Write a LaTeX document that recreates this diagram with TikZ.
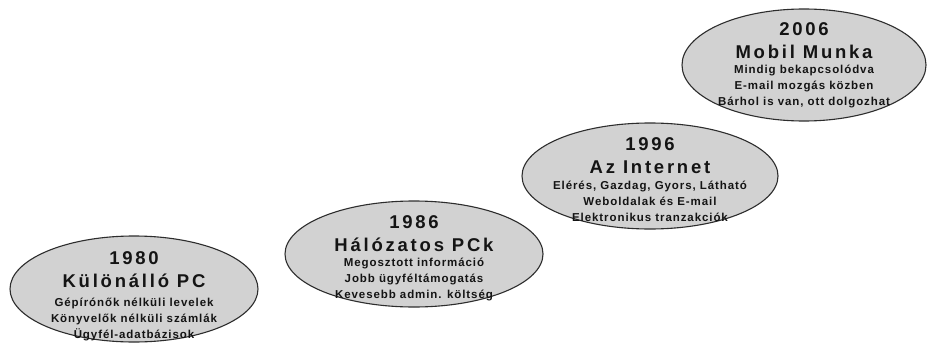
\documentclass[tikz,border=0pt]{standalone}
\usepackage{fontspec}
\setmainfont{Liberation Sans}
\newfontfamily\headface[LetterSpace=15]{Liberation Sans}
\newfontfamily\wideface[LetterSpace=8]{Liberation Sans}
\usetikzlibrary{shapes.geometric}
\definecolor{bubble}{RGB}{210,210,210}
\definecolor{rim}{RGB}{45,45,45}
\definecolor{ink}{RGB}{20,20,20}
\tikzset{
  era/.style={ellipse, draw=rim, line width=1.1pt, fill=bubble, inner sep=0pt},
  head/.style={align=center, text=ink, inner sep=0pt,
    font=\headface\bfseries\fontsize{18.5}{23}\selectfont},
  detail/.style={align=center, text=ink, inner sep=0pt,
    font=\wideface\bfseries\fontsize{11.5}{16}\selectfont}
}
\begin{document}
\begin{tikzpicture}[x=1pt, y=-1pt]
  \fill[white] (0,0) rectangle (928,345);
  \useasboundingbox (0,0) rectangle (928,345);

  % 1980
  \node[era, minimum width=248pt, minimum height=106pt] (e1) at (134,289) {};
  \node[head] (e1t) at ([yshift=19pt]e1.center) {1980\\Különálló PC};
  \node[detail] (e1d) at ([yshift=-30pt]e1.center)
    {Gépírónők nélküli levelek\\Könyvelők nélküli számlák\\Ügyfél-adatbázisok};

  % 1986
  \node[era, minimum width=258pt, minimum height=106pt] (e2) at (414,254) {};
  \node[head] (e2t) at ([yshift=20.5pt]e2.center) {1986\\Hálózatos PCk};
  \node[detail] (e2d) at ([yshift=-25pt]e2.center)
    {Megosztott információ\\Jobb ügyféltámogatás\\Kevesebb admin. költség};

  % 1996
  \node[era, minimum width=256pt, minimum height=106pt] (e3) at (650,176) {};
  \node[head] (e3t) at ([yshift=20pt]e3.center) {1996\\Az Internet};
  \node[detail] (e3d) at ([yshift=-25pt]e3.center)
    {Elérés, Gazdag, Gyors, Látható\\Weboldalak és E-mail\\Elektronikus tranzakciók};

  % 2006
  \node[era, minimum width=244pt, minimum height=112pt] (e4) at (804,65) {};
  \node[head] (e4t) at ([yshift=24pt]e4.center) {2006\\Mobil Munka};
  \node[detail] (e4d) at ([yshift=-22pt]e4.center)
    {Mindig bekapcsolódva\\E-mail mozgás közben\\Bárhol is van, ott dolgozhat};
\end{tikzpicture}
\end{document}
